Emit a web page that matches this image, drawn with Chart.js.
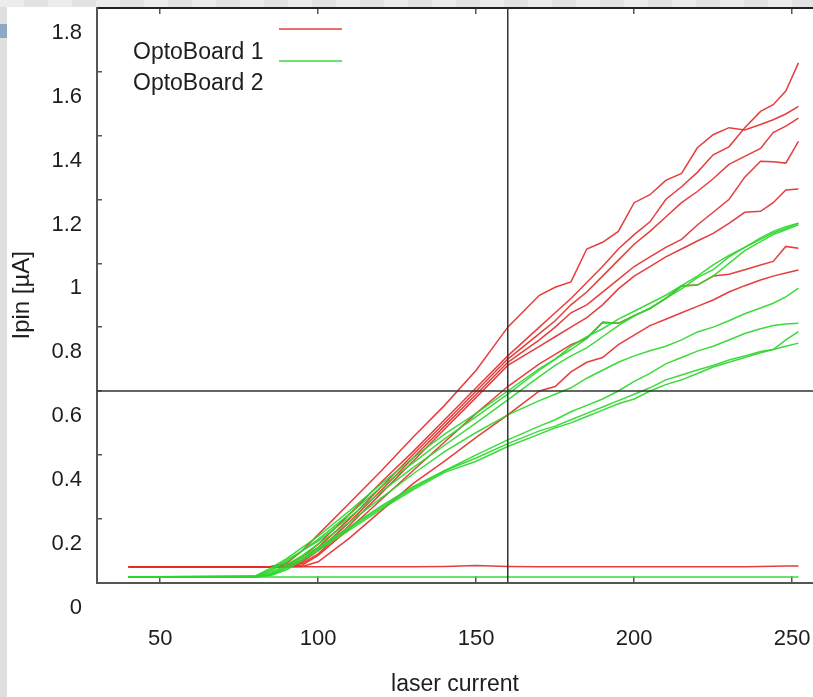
<!DOCTYPE html>
<html>
<head>
<meta charset="utf-8">
<style>
  body { margin: 0; background: #dfdfdf; width: 813px; height: 697px; overflow: hidden; position: relative; }
  #band { position: absolute; left: 0; top: 0; width: 813px; height: 7px;
          background: repeating-linear-gradient(90deg, #ececec 0 24px, #e2e2e2 24px 48px); }
  #tab { position: absolute; left: 0; top: 24px; width: 7px; height: 14px; background: #8ea8c6; }
  #wrap { position: absolute; left: 7px; top: 7px; width: 806px; height: 690px; background: #fff; }
</style>
</head>
<body>
<div id="band"></div>
<div id="tab"></div>
<div id="wrap"><canvas id="chart" width="806" height="690"></canvas></div>

<script src="https://cdn.jsdelivr.net/npm/chart.js"></script>
<script>
  // laser current steps shared by every curve
  const xs = [40, 80, 85, 90, 95, 100, 110, 120, 130, 140, 150, 160, 170, 175, 180, 185, 190, 195, 200, 205, 210, 215, 220, 225, 230, 235, 240, 244, 248, 252]

  // OptoBoard 1 channels (Ipin, uA)
  const red0 = [0.049, 0.049, 0.049, 0.049, 0.049, 0.049, 0.049, 0.049, 0.049, 0.05, 0.053, 0.05, 0.049, 0.049, 0.049, 0.049, 0.049, 0.049, 0.049, 0.049, 0.049, 0.049, 0.049, 0.049, 0.049, 0.049, 0.05, 0.051, 0.052, 0.052]
  const red1 = [0.049, 0.049, 0.05, 0.06, 0.10, 0.15, 0.25, 0.35, 0.455, 0.555, 0.665, 0.80, 0.90, 0.925, 0.942, 1.045, 1.066, 1.10, 1.19, 1.215, 1.26, 1.282, 1.362, 1.403, 1.425, 1.418, 1.435, 1.45, 1.468, 1.492]
  const red2 = [0.049, 0.049, 0.049, 0.055, 0.08, 0.12, 0.215, 0.315, 0.41, 0.51, 0.61, 0.71, 0.80, 0.845, 0.89, 0.94, 0.99, 1.045, 1.09, 1.13, 1.20, 1.24, 1.285, 1.34, 1.365, 1.425, 1.476, 1.497, 1.54, 1.628]
  const red3 = [0.049, 0.049, 0.049, 0.052, 0.07, 0.11, 0.20, 0.30, 0.40, 0.50, 0.60, 0.70, 0.78, 0.82, 0.87, 0.91, 0.96, 1.01, 1.06, 1.10, 1.145, 1.19, 1.225, 1.265, 1.31, 1.335, 1.36, 1.41, 1.43, 1.455]
  const red4 = [0.049, 0.049, 0.049, 0.05, 0.065, 0.10, 0.19, 0.29, 0.39, 0.49, 0.59, 0.69, 0.76, 0.80, 0.845, 0.87, 0.91, 0.95, 0.99, 1.02, 1.05, 1.075, 1.12, 1.16, 1.20, 1.27, 1.32, 1.318, 1.314, 1.382]
  const red5 = [0.049, 0.049, 0.049, 0.049, 0.06, 0.09, 0.18, 0.28, 0.38, 0.48, 0.58, 0.68, 0.74, 0.77, 0.80, 0.83, 0.87, 0.92, 0.96, 0.99, 1.02, 1.045, 1.07, 1.094, 1.125, 1.16, 1.163, 1.19, 1.23, 1.233]
  const red6 = [0.049, 0.049, 0.049, 0.049, 0.055, 0.085, 0.17, 0.26, 0.35, 0.44, 0.53, 0.614, 0.685, 0.715, 0.745, 0.765, 0.815, 0.812, 0.836, 0.858, 0.89, 0.93, 0.932, 0.96, 0.966, 0.98, 0.995, 1.006, 1.053, 1.047]
  const red7 = [0.049, 0.049, 0.049, 0.049, 0.05, 0.065, 0.14, 0.225, 0.31, 0.38, 0.455, 0.525, 0.60, 0.614, 0.66, 0.69, 0.705, 0.745, 0.775, 0.805, 0.825, 0.845, 0.865, 0.885, 0.91, 0.93, 0.948, 0.96, 0.97, 0.979]

  // OptoBoard 2 channels
  const green0 = [0.017, 0.017, 0.017, 0.017, 0.017, 0.017, 0.017, 0.017, 0.017, 0.017, 0.017, 0.017, 0.017, 0.017, 0.017, 0.017, 0.017, 0.017, 0.017, 0.017, 0.017, 0.017, 0.017, 0.017, 0.017, 0.017, 0.017, 0.017, 0.017, 0.017]
  const green1 = [0.017, 0.02, 0.045, 0.075, 0.11, 0.145, 0.225, 0.31, 0.39, 0.465, 0.53, 0.60, 0.67, 0.70, 0.74, 0.77, 0.795, 0.825, 0.85, 0.875, 0.90, 0.93, 0.96, 0.995, 1.025, 1.05, 1.075, 1.095, 1.11, 1.126]
  const green2 = [0.017, 0.018, 0.035, 0.065, 0.10, 0.135, 0.215, 0.30, 0.375, 0.45, 0.52, 0.59, 0.665, 0.70, 0.73, 0.765, 0.815, 0.812, 0.836, 0.858, 0.89, 0.928, 0.932, 0.96, 1.00, 1.04, 1.068, 1.09, 1.105, 1.121]
  const green3 = [0.017, 0.02, 0.04, 0.07, 0.10, 0.13, 0.205, 0.285, 0.36, 0.43, 0.50, 0.572, 0.645, 0.68, 0.71, 0.735, 0.77, 0.805, 0.835, 0.86, 0.89, 0.92, 0.955, 0.98, 1.02, 1.05, 1.08, 1.10, 1.115, 1.126]
  const green4 = [0.017, 0.018, 0.03, 0.055, 0.085, 0.12, 0.19, 0.265, 0.34, 0.41, 0.47, 0.525, 0.57, 0.59, 0.61, 0.64, 0.665, 0.69, 0.71, 0.726, 0.74, 0.76, 0.785, 0.80, 0.82, 0.842, 0.86, 0.875, 0.895, 0.922]
  const green5 = [0.017, 0.017, 0.025, 0.05, 0.08, 0.11, 0.175, 0.24, 0.30, 0.35, 0.40, 0.447, 0.49, 0.51, 0.535, 0.555, 0.575, 0.60, 0.63, 0.655, 0.685, 0.705, 0.725, 0.74, 0.76, 0.78, 0.795, 0.805, 0.81, 0.812]
  const green6 = [0.017, 0.017, 0.025, 0.045, 0.075, 0.105, 0.17, 0.235, 0.295, 0.35, 0.39, 0.435, 0.475, 0.49, 0.51, 0.53, 0.55, 0.57, 0.59, 0.61, 0.635, 0.65, 0.666, 0.68, 0.697, 0.71, 0.724, 0.73, 0.76, 0.786]
  const green7 = [0.017, 0.017, 0.022, 0.04, 0.07, 0.10, 0.165, 0.23, 0.29, 0.345, 0.38, 0.426, 0.465, 0.485, 0.50, 0.52, 0.54, 0.56, 0.575, 0.60, 0.62, 0.635, 0.655, 0.675, 0.69, 0.705, 0.72, 0.73, 0.74, 0.75]

  const xTicks = [50, 100, 150, 200, 250]
  const yTicks = [0, 0.2, 0.4, 0.6, 0.8, 1, 1.2, 1.4, 1.6, 1.8]
  const crossX = 160
  const crossY = 0.6

  const legendLabels = ['OptoBoard 1', 'OptoBoard 2']
  const RED = 'rgba(228, 45, 45, 0.92)'
  const GREEN = 'rgba(45, 215, 45, 0.92)'
  const AXIS = '#555'
  const TEXT = '#1e1e1e'
  const XMIN = 30, XMAX = 256.6

  Chart.defaults.font.family = '"Liberation Sans", Arial, sans-serif'

  const pts = vals => vals.map((y, i) => ({ x: xs[i], y }))

  function curve(vals, color) {
    return {
      data: pts(vals),
      borderColor: color,
      borderWidth: 1.5,
      pointRadius: 0,
      tension: 0,
      fill: false,
      order: color === RED ? 2 : 1
    }
  }

  const reds = [red0, red1, red2, red3, red4, red5, red6, red7].map(v => curve(v, RED))
  const greens = [green0, green1, green2, green3, green4, green5, green6, green7].map(v => curve(v, GREEN))

  const cross = [
    { data: [{ x: crossX, y: 0 }, { x: crossX, y: 1.8 }], borderColor: '#333', borderWidth: 1.5, pointRadius: 0, order: 0 },
    { data: [{ x: XMIN, y: crossY }, { x: XMAX, y: crossY }], borderColor: '#333', borderWidth: 1.5, pointRadius: 0, order: 0 }
  ]

  // gnuplot style key: text on the left, line samples to the right and a bit higher
  const keyPlugin = {
    id: 'key',
    afterDraw(chart) {
      const c = chart.ctx
      c.save()
      c.font = '23px "Liberation Sans", Arial, sans-serif'
      c.fillStyle = TEXT
      c.textBaseline = 'alphabetic'
      c.fillText(legendLabels[0], 126, 52)
      c.fillText(legendLabels[1], 126, 83)
      c.lineWidth = 1.5
      c.strokeStyle = RED
      c.beginPath(); c.moveTo(272, 22); c.lineTo(335, 22); c.stroke()
      c.strokeStyle = GREEN
      c.beginPath(); c.moveTo(272, 54); c.lineTo(335, 54); c.stroke()
      c.restore()
    }
  }

  // fixed box sizes, and no extra room reserved for overhanging labels
  function fixBox(w, h) {
    return s => {
      if (w != null) s.width = w
      if (h != null) s.height = h
      s.paddingTop = 0
      s.paddingBottom = 0
      s.paddingLeft = 0
      s.paddingRight = 0
    }
  }

  const tickFont = { size: 22 }
  const inward = { drawOnChartArea: false, drawTicks: true, tickLength: -6, color: AXIS, lineWidth: 1.5 }

  new Chart(document.getElementById('chart'), {
    type: 'line',
    data: { datasets: [...cross, ...greens, ...reds] },
    options: {
      responsive: false,
      animation: false,
      layout: { padding: 0 },
      plugins: { legend: { display: false }, tooltip: { enabled: false } },
      scales: {
        x: {
          type: 'linear',
          position: 'bottom',
          min: XMIN,
          max: XMAX,
          afterBuildTicks: s => { s.ticks = xTicks.map(v => ({ value: v })) },
          afterFit: fixBox(null, 114.5),
          grid: inward,
          border: { color: AXIS, width: 2 },
          ticks: { font: tickFont, color: TEXT, padding: 49, maxRotation: 0 },
          title: { display: true, text: 'laser current', font: { size: 23 }, color: TEXT, padding: { top: 0, bottom: -1 } }
        },
        x2: {
          type: 'linear',
          position: 'top',
          min: XMIN,
          max: XMAX,
          afterBuildTicks: s => { s.ticks = xTicks.map(v => ({ value: v })) },
          afterFit: fixBox(null, 1),
          grid: inward,
          border: { color: '#222', width: 2 },
          ticks: { display: false }
        },
        y: {
          type: 'linear',
          min: 0,
          max: 1.8,
          afterBuildTicks: s => { s.ticks = yTicks.map(v => ({ value: v })) },
          afterFit: fixBox(90, null),
          grid: { ...inward, tickLength: -5 },
          border: { color: AXIS, width: 2 },
          ticks: { font: tickFont, color: TEXT, padding: 20, labelOffset: 25, callback: v => String(+v.toFixed(1)) },
          title: { display: true, text: 'Ipin [µA]', font: { size: 24 }, color: TEXT, padding: { top: 1, bottom: 0 } }
        }
      }
    },
    plugins: [keyPlugin]
  })
</script>
</body>
</html>
